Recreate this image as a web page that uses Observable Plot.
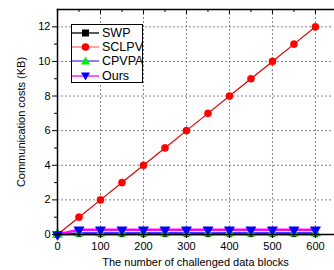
<!DOCTYPE html>
<html><head><meta charset="utf-8">
<script src="https://cdn.jsdelivr.net/npm/d3@7"></script>
<script src="https://cdn.jsdelivr.net/npm/@observablehq/plot@0.6"></script>
<style>
body{margin:0;background:#fff;font-family:"Liberation Sans",Arial,sans-serif;}
#wrap{position:relative;width:334px;height:270px;}
#legend{position:absolute;left:71px;top:24px;width:72px;height:59px;border:1px solid #000;background:#fff;font-size:12.5px;box-sizing:border-box;}
#legend .sw{position:absolute;left:0;width:27px;height:14px;overflow:visible;}
#legend .lb{position:absolute;left:30px;line-height:14px;white-space:nowrap;}
</style></head>
<body><div id="wrap"></div>
<script>
const blocks = [0,50,100,150,200,250,300,350,400,450,500,550,600];
const swp   = [0,0,0,0,0,0,0,0,0,0,0,0,0];
const sclpv = [0,1,2,3,4,5,6,7,8,9,10,11,12];
const cpvpa = [0,0.08,0.08,0.08,0.08,0.08,0.08,0.08,0.08,0.08,0.08,0.08,0.08];
const ours  = [0,0.27,0.27,0.27,0.27,0.27,0.27,0.27,0.27,0.27,0.27,0.27,0.27];
const xTicks = [0,100,200,300,400,500,600];
const xMinor = [50,150,250,350,450,550];
const yTicks = [0,2,4,6,8,10,12];
const yMinor = [1,3,5,7,9,11];
const seriesNames = ["SWP","SCLPV","CPVPA","Ours"];

const series = [
  {name:"SWP", vals:swp, line:"#000000", fill:"#000000", symbol:"square", rotate:0, r:2.6},
  {name:"SCLPV", vals:sclpv, line:"#e00000", fill:"#ff0000", symbol:"circle", rotate:0, r:3.6},
  {name:"CPVPA", vals:cpvpa, line:"#0000ff", fill:"#00ee00", symbol:"triangle", rotate:0, r:3.8},
  {name:"Ours", vals:ours, line:"#ff00ff", fill:"#0000ff", symbol:"triangle", rotate:180, r:3.8}
];
const legendLine = {"SWP":"#000000","SCLPV":"#ff7070","CPVPA":"#4040ff","Ours":"#ff00ff"};

const marks = [];
marks.push(Plot.gridX(xTicks.filter(d=>d>0), {stroke:"#666", strokeOpacity:1, strokeDasharray:"2,2", strokeWidth:0.8}));
marks.push(Plot.gridY(yTicks.filter(d=>d>0), {stroke:"#666", strokeOpacity:1, strokeDasharray:"2,2", strokeWidth:0.8}));
for (const s of series) {
  const data = blocks.map((b,i)=>({x:b,y:s.vals[i]}));
  const w = s.name==="Ours" ? 2.5 : (s.name==="SCLPV"?1.2:1.5);
  marks.push(Plot.line(data,{x:"x",y:"y",stroke:s.line,strokeWidth:w}));
}
for (const s of series) {
  const data = blocks.map((b,i)=>({x:b,y:s.vals[i]}));
  marks.push(Plot.dot(data,{x:"x",y:"y",symbol:()=>s.symbol,fill:s.fill,stroke:s.fill,strokeWidth:0.5,r:s.r,rotate:s.rotate}));
}
marks.push(
  Plot.frame({anchor:"bottom", stroke:"#000", strokeWidth:1.5}),
  Plot.frame({anchor:"left", stroke:"#000", strokeWidth:1.5}),
  Plot.frame({anchor:"top", stroke:"#000", strokeWidth:1.5}),
  Plot.axisX({ticks:xTicks, tickSize:4, tickPadding:4, fontSize:11, label:"The number of challenged data blocks", labelAnchor:"center", labelOffset:31, labelArrow:false}),
  Plot.axisX({ticks:xMinor, tickSize:2, tickFormat:()=>"", label:null}),
  Plot.axisY({ticks:yTicks, tickSize:5, tickPadding:2, fontSize:11, label:"Communication costs (KB)", labelAnchor:"center", labelOffset:40, labelArrow:false}),
  Plot.axisY({ticks:yMinor, tickSize:3, tickFormat:()=>"", label:null}),
  Plot.axisX({anchor:"top", ticks:xTicks, tickSize:-4, tickFormat:()=>"", label:null}),
  Plot.axisX({anchor:"top", ticks:xMinor, tickSize:-2, tickFormat:()=>"", label:null})
);

const chart = Plot.plot({
  width:334, height:270,
  marginLeft:57, marginRight:1, marginTop:9, marginBottom:36,
  x:{domain:[0,642]},
  y:{domain:[0,13]},
  style:{fontFamily:"'Liberation Sans', Arial, sans-serif", fontSize:"12px", color:"#000", background:"#fff"},
  marks
});
const wrap = document.getElementById("wrap");
wrap.appendChild(chart);

const NS = "http://www.w3.org/2000/svg";
const lg = document.createElement("div");
lg.id="legend";
seriesNames.forEach((name, i) => {
  const s = series.find(d=>d.name===name);
  const top = 1 + i*14.2;
  const svg = document.createElementNS(NS,"svg");
  svg.setAttribute("class","sw");
  svg.setAttribute("width","27"); svg.setAttribute("height","14");
  svg.setAttribute("viewBox","0 0 27 14");
  svg.style.top = top + "px";
  const ln = document.createElementNS(NS,"line");
  ln.setAttribute("x1","0"); ln.setAttribute("x2","27"); ln.setAttribute("y1","7"); ln.setAttribute("y2","7");
  ln.setAttribute("stroke", legendLine[name]); ln.setAttribute("stroke-width","1.3");
  svg.appendChild(ln);
  let sym;
  if (s.symbol==="square") { sym = document.createElementNS(NS,"rect"); sym.setAttribute("x","10"); sym.setAttribute("y","3.5"); sym.setAttribute("width","7"); sym.setAttribute("height","7"); }
  else if (s.symbol==="circle") { sym = document.createElementNS(NS,"circle"); sym.setAttribute("cx","13.5"); sym.setAttribute("cy","7"); sym.setAttribute("r","3.8"); }
  else { sym = document.createElementNS(NS,"path"); sym.setAttribute("d", s.rotate===0 ? "M13.5,2.5 L18,10.5 L9,10.5 Z" : "M13.5,11.5 L18,3.5 L9,3.5 Z"); }
  sym.setAttribute("fill", s.fill);
  svg.appendChild(sym);
  lg.appendChild(svg);
  const sp = document.createElement("span");
  sp.className = "lb";
  sp.style.top = top + "px";
  sp.textContent = name;
  lg.appendChild(sp);
});
wrap.appendChild(lg);
</script></body></html>
